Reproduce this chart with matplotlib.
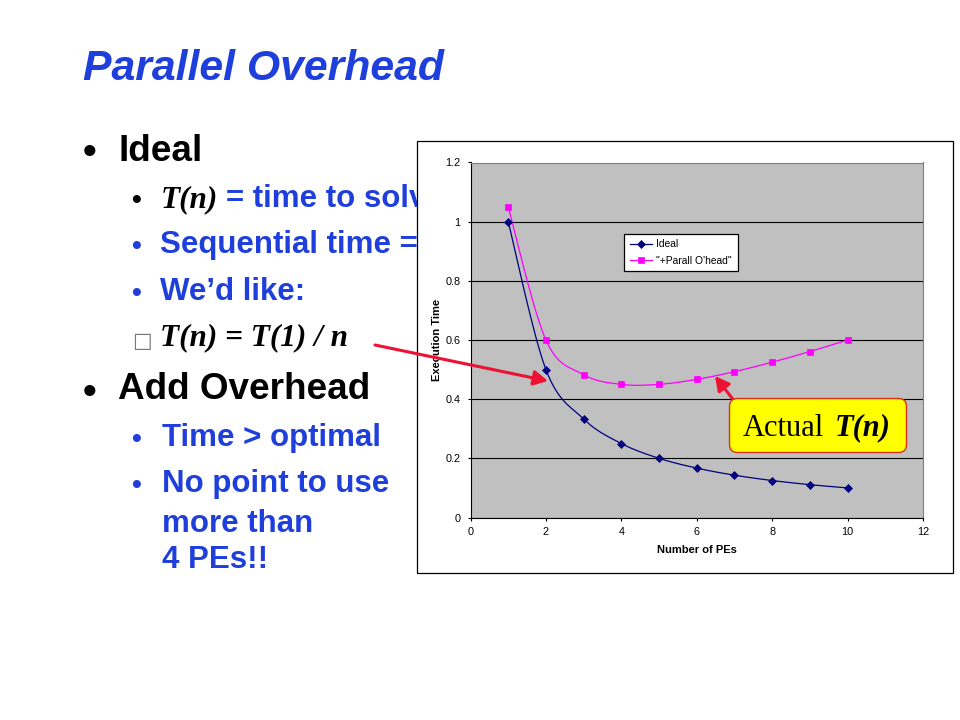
import numpy as np
import matplotlib
matplotlib.use("Agg")
import matplotlib.pyplot as plt
from matplotlib.patches import Rectangle, FancyBboxPatch, FancyArrowPatch
from matplotlib.lines import Line2D
from matplotlib import transforms

# ---------------- data ----------------
pes = [1, 2, 3, 4, 5, 6, 7, 8, 9, 10]
ideal = [1.0, 0.5, 0.333, 0.25, 0.2, 0.167, 0.143, 0.125, 0.111, 0.1]
overhead = [1.05, 0.6, 0.483, 0.45, 0.45, 0.467, 0.493, 0.525, 0.561, 0.6]
series_names = ["Ideal", "\"+Parall O'head\""]
x_ticks = [0, 2, 4, 6, 8, 10, 12]
y_ticks = [0, 0.2, 0.4, 0.6, 0.8, 1.0, 1.2]
y_tick_labels = ["0", "0.2", "0.4", "0.6", "0.8", "1", "1.2"]

SANS = "Liberation Sans"
SERIF = "Liberation Serif"
BLUE = "#1f3fdc"
RED = "#ee1133"
NAVY = "#000080"
MAGENTA = "#ff00ff"

fig = plt.figure(figsize=(9.6, 7.2), dpi=100)
fig.patch.set_facecolor("white")
# pixel transform: (x, y) in image pixels, origin top-left
PX = transforms.Affine2D().scale(1 / 960, -1 / 720).translate(0, 1) + fig.transFigure


def txt(x, y, s, size, color="black", family=SANS, weight="bold", style="normal", z=1):
    return fig.text(x, y, s, transform=PX, fontsize=size, color=color,
                    family=family, weight=weight, style=style,
                    ha="left", va="baseline", zorder=z)


# ---------------- slide text ----------------
txt(83, 80, "Parallel Overhead", 30.8, BLUE, style="italic")

L1 = 26.6
L2 = 22.5
B1 = 28
B2 = 20
# level 1 bullets
txt(82.5, 163.5, "\u2022", B1)
txt(118.5, 161, "Ideal", L1)
txt(82.5, 403.5, "\u2022", B1)
txt(118.5, 399, "Add Overhead", L1)

# level 2 bullets
txt(131, 208.3, "\u2022", B2)
txt(160.5, 207, "T(n)", L2, family=SERIF, style="italic")
txt(226.5, 207, "= time to solve problem", L2, BLUE)

txt(131, 254.3, "\u2022", B2, BLUE)
txt(160.5, 253, "Sequential time = T(1)", L2, BLUE)

txt(131, 301.3, "\u2022", B2, BLUE)
txt(160.5, 300, "We\u2019d like:", L2, BLUE)

txt(132, 347, "\u25a1", 15, "#777777", family="DejaVu Sans", weight="normal")
txt(160.5, 345, "T(n) = T(1) / n", L2, family=SERIF, style="italic")

txt(131.5, 447.3, "\u2022", B2, BLUE)
txt(161.5, 446, "Time > optimal", L2, BLUE)
txt(131.5, 493.3, "\u2022", B2, BLUE)
txt(161.5, 492, "No point to use", L2, BLUE)
txt(161.5, 532, "more than", L2, BLUE)
txt(161.5, 568, "4 PEs!!", L2, BLUE)

# ---------------- chart frame ----------------
fig.add_artist(Rectangle((417, 141), 536, 431.5, transform=PX, facecolor="white",
                         edgecolor="black", lw=0.9, zorder=2))

ax = fig.add_axes([470.5 / 960, 1 - 517.5 / 720, 452.5 / 960, 355 / 720], zorder=3)
ax.set_facecolor("#c0c0c0")
ax.set_xlim(0, 12)
ax.set_ylim(0, 1.2)
ax.set_xticks(x_ticks)
ax.set_xticklabels([str(v) for v in x_ticks])
ax.set_yticks(y_ticks)
ax.set_yticklabels(y_tick_labels)
ax.set_axisbelow(True)
ax.grid(axis="y", color="black", lw=0.8)
ax.grid(axis="x", visible=False)
for side in ("left", "bottom"):
    ax.spines[side].set_color("black")
    ax.spines[side].set_linewidth(0.8)
for side in ("top", "right"):
    ax.spines[side].set_color("#808080")
    ax.spines[side].set_linewidth(0.8)
ax.tick_params(direction="out", length=2.5, width=0.8, labelsize=7.8, pad=4.5, colors="black")
for lab in ax.get_xticklabels() + ax.get_yticklabels():
    lab.set_family(SANS)
ax.set_xlabel("Number of PEs", fontsize=8, weight="bold", family=SANS, labelpad=5.5)
ax.set_ylabel("Execution Time", fontsize=8, weight="bold", family=SANS, labelpad=2.5)


def smooth(x, y, n=30):
    pts = np.column_stack([np.asarray(x, float), np.asarray(y, float)])
    out = []
    t = np.linspace(0, 1, n)[:, None]
    for i in range(len(pts) - 1):
        p0 = pts[i - 1] if i > 0 else pts[i]
        p1 = pts[i]
        p2 = pts[i + 1]
        p3 = pts[i + 2] if i + 2 < len(pts) else pts[i + 1]
        c1 = p1 + (p2 - p0) / 6
        c2 = p2 - (p3 - p1) / 6
        seg = ((1 - t) ** 3) * p1 + 3 * ((1 - t) ** 2) * t * c1 + 3 * (1 - t) * t ** 2 * c2 + t ** 3 * p2
        out.append(seg if i == 0 else seg[1:])
    out = np.vstack(out)
    return out[:, 0], out[:, 1]


MK = dict(ms_d=3.7, ms_s=4.2, mew=0.5)
sx, sy = smooth(pes, ideal)
ax.plot(sx, sy, color=NAVY, lw=0.9, zorder=3)
ax.plot(pes, ideal, linestyle="none", marker="D", ms=MK["ms_d"], mew=MK["mew"], color=NAVY, zorder=4)
sx, sy = smooth(pes, overhead)
ax.plot(sx, sy, color=MAGENTA, lw=0.9, zorder=3)
ax.plot(pes, overhead, linestyle="none", marker="s", ms=MK["ms_s"], mew=MK["mew"], color=MAGENTA, zorder=4)

handles = [Line2D([], [], color=NAVY, lw=0.9, marker="D", ms=MK["ms_d"], mew=MK["mew"]),
           Line2D([], [], color=MAGENTA, lw=0.9, marker="s", ms=MK["ms_s"], mew=MK["mew"])]
leg = ax.legend(handles, series_names, loc="upper left",
                bbox_to_anchor=(624 / 960, 1 - 233.5 / 720), bbox_transform=fig.transFigure,
                borderaxespad=0, fancybox=False, framealpha=1, edgecolor="black",
                prop={"family": SANS, "size": 7.4}, handlelength=2.2, handletextpad=0.4,
                borderpad=0.55, labelspacing=0.65)
leg.get_frame().set_linewidth(0.9)

# ---------------- annotations ----------------
fig.add_artist(FancyArrowPatch((375, 345), (548, 381), transform=PX,
                               arrowstyle="-|>,head_length=0.85,head_width=0.45",
                               mutation_scale=10, lw=2.2, color=RED,
                               shrinkA=0, shrinkB=0, zorder=5))
fig.add_artist(FancyArrowPatch((735, 402), (715, 376), transform=PX,
                               arrowstyle="-|>,head_length=0.85,head_width=0.45",
                               mutation_scale=10, lw=2.2, color=RED,
                               shrinkA=0, shrinkB=0, zorder=5))
fig.add_artist(FancyBboxPatch((729.5, 398.5), 177, 54, transform=PX,
                              boxstyle="round,pad=0,rounding_size=8",
                              facecolor="#ffff00", edgecolor="#e03010", lw=1, zorder=6))
txt(742.5, 435.5, "Actual", 22, family=SERIF, weight="normal", z=7)
txt(834.5, 435.5, "T(n)", 22, family=SERIF, style="italic", z=7)

fig.savefig("out.png", dpi=100, facecolor="white")
